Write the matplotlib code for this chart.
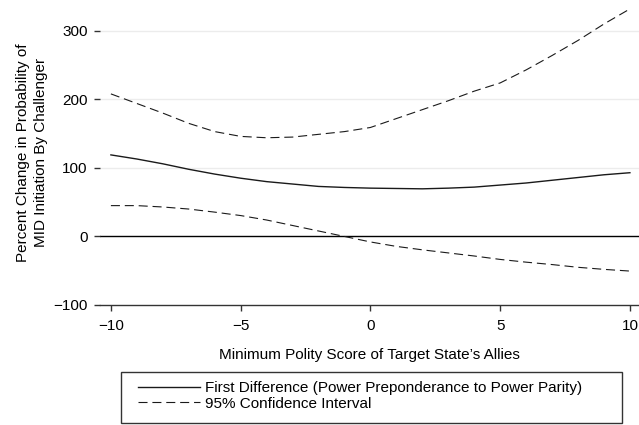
import numpy as np
import matplotlib.pyplot as plt
from matplotlib.patches import Rectangle

plt.rcParams['font.family'] = ['Liberation Sans', 'DejaVu Sans']
plt.rcParams['lines.scale_dashes'] = False

# polity score of target state's allies
polity = [-10, -9, -8, -7, -6, -5, -4, -3, -2, -1, 0,
          1, 2, 3, 4, 5, 6, 7, 8, 9, 10]
# first difference (percent change)
first_diff = [119, 113, 106, 98, 91, 85, 80, 76.5, 73, 71.5, 70.5,
              70, 69.5, 70.5, 72, 75, 78, 82, 86, 90, 93]
ci_upper = [208, 194, 180, 165, 153, 146, 144, 145, 149, 153, 159,
            172, 185, 198, 212, 224, 243, 264, 286, 310, 332]
ci_lower = [45, 45, 43, 40, 35.5, 30.5, 24, 16, 8, 0, -8,
            -14.5, -19.5, -24, -28.5, -33.5, -37.5, -41, -45, -48, -50.5]

yticks = [-100, 0, 100, 200, 300]
xticks = [-10, -5, 0, 5, 10]

fig = plt.figure(figsize=(6.39, 4.25), dpi=100)
ax = fig.add_axes([100/639, 1 - 305/425, 539/639, 305/425])

line_col = '#1a1a1a'
for v in [100, 200, 300]:
    ax.axhline(v, color='#ececec', lw=1.0, zorder=0)
ax.axhline(0, color='black', lw=1.0, zorder=1)

ax.plot(polity, first_diff, color=line_col, lw=1.0,
        label='First Difference (Power Preponderance to Power Parity)')
ax.plot(polity, ci_upper, color=line_col, lw=0.8, dashes=(6.5, 3.5),
        label='95% Confidence Interval')
ax.plot(polity, ci_lower, color=line_col, lw=0.8, dashes=(6.5, 3.5))

ax.set_xlim(-10.42, 10.35)
ax.set_ylim(-100, 345)
ax.set_xticks(xticks)
ax.set_xticklabels(['\u221210', '\u22125', '0', '5', '10'])
ax.set_yticks(yticks)
ax.set_yticklabels(['\u2212100', '0', '100', '200', '300'])
ax.tick_params(axis='both', labelsize=11, color='#333333', width=1.0, length=4)
ax.tick_params(axis='x', pad=6)
ax.tick_params(axis='y', pad=5)

for s in ['top', 'right', 'left']:
    ax.spines[s].set_visible(False)
ax.spines['bottom'].set_color('#333333')
ax.spines['bottom'].set_linewidth(1.0)

ax.set_xlabel("Minimum Polity Score of Target State\u2019s Allies", fontsize=11, labelpad=11)
ax.set_ylabel('Percent Change in Probability of\nMID Initiation By Challenger',
              fontsize=11, labelpad=4, linespacing=1.3)

# legend box drawn separately (taller than its two entries)
fig.patches.append(Rectangle((121/639, 2/425), 501/639, 51/425,
                             transform=fig.transFigure, fill=False,
                             edgecolor='#333333', lw=1.0))
handles, labels = ax.get_legend_handles_labels()
leg = fig.legend(handles, labels, loc='upper left',
                 bbox_to_anchor=(138/639, 1 - 381/425),
                 fontsize=11, handlelength=4.05,
                 handletextpad=0.33, labelspacing=0.12, borderpad=0,
                 borderaxespad=0, frameon=False)

plt.savefig('out.png', dpi=100)
